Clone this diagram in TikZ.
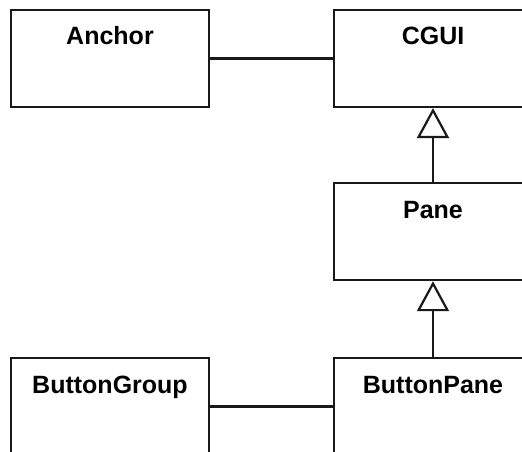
\documentclass[tikz,border=0pt]{standalone}
\usepackage{fontspec}
\setmainfont{Liberation Sans}
\usetikzlibrary{arrows.meta,positioning}
\definecolor{umlline}{RGB}{25,25,25}
\tikzset{
  classbox/.style={draw=umlline,line width=2.2pt,fill=white,minimum width=198pt,
    inner xsep=2pt,inner ysep=0pt,text height=35pt,text depth=62pt,
    font=\fontsize{25}{30}\selectfont\bfseries},
  assoc/.style={draw=umlline,line width=2.2pt},
  inherit/.style={-{Triangle[open,length=30pt,width=32pt,fill=white]},draw=umlline,line width=2.2pt}
}
\begin{document}
\begin{tikzpicture}[x=323pt,y=-174pt]
  \useasboundingbox (-110pt,58.5pt) rectangle (412pt,-393.5pt);
  \clip (-110pt,58.5pt) rectangle (412pt,-393.5pt);
  \node[classbox] (anchor) at (0,0) {Anchor};
  \node[classbox] (cgui) at (1,0) {CGUI};
  \node[classbox] (pane) at (1,0.995) {Pane};
  \node[classbox] (buttongroup) at (0,2) {ButtonGroup};
  \node[classbox] (buttonpane) at (1,2) {ButtonPane};
  \draw[assoc] (anchor) -- (cgui);
  \draw[assoc] (buttongroup) -- (buttonpane);
  \draw[inherit] (pane) -- (cgui);
  \draw[inherit] (buttonpane) -- (pane);
\end{tikzpicture}
\end{document}
